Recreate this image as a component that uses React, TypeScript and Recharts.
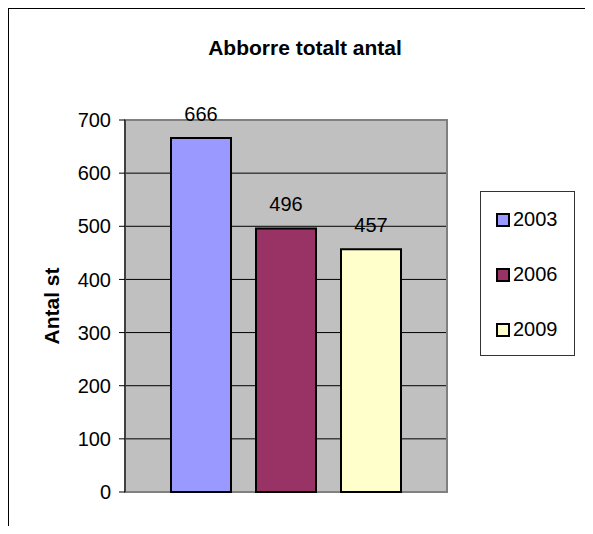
import React from 'react';
import {
  BarChart, Bar, XAxis, YAxis, CartesianGrid, Legend, LabelList, ReferenceArea
} from 'recharts';

// värden
const years = ['2003', '2006', '2009'];
const counts = [666, 496, 457];
const barColors = ['#9999FF', '#993366', '#FFFFCC'];
const yTicks = [0, 100, 200, 300, 400, 500, 600, 700];

const FONT = 'Liberation Sans, Arial, sans-serif';

const row: Record<string, string | number> = { name: 'Abborre' };
years.forEach((y, i) => { row['y' + y] = counts[i]; });
const chartData = [row];

const LegendBox = (props: any) => {
  const payload = props.payload || [];
  return (
    <div style={{
      boxSizing: 'border-box', width: 95, height: 165, border: '1px solid #333',
      background: '#fff', paddingLeft: 15, fontFamily: FONT, fontSize: 20, color: '#000'
    }}>
      {payload.map((p: any) => (
        <div key={p.value} style={{ height: 55, display: 'flex', alignItems: 'center' }}>
          <span style={{
            boxSizing: 'border-box', width: 14, height: 14, border: '2px solid #000',
            background: p.color, marginRight: 3
          }} />
          <span>{p.value}</span>
        </div>
      ))}
    </div>
  );
};

const AxisTitle = (props: any) => {
  const vb = props.viewBox;
  const x = vb.x + 42;
  const y = vb.y + vb.height / 2;
  return (
    <text x={x} y={y} transform={`rotate(-90, ${x}, ${y})`} textAnchor="middle"
      dominantBaseline="central" fontFamily={FONT} fontSize={21} fontWeight="bold" fill="#000">
      Antal st
    </text>
  );
};

const App: React.FC = () => {
  return (
    <div style={{
      position: 'relative', width: 584, height: 517, borderLeft: '1px solid #000',
      borderTop: '1px solid #000', overflow: 'hidden', background: '#fff'
    }}>
      <div style={{
        position: 'absolute', left: 146, top: 28, width: 300, textAlign: 'center',
        fontFamily: FONT, fontSize: 21, lineHeight: '21px', fontWeight: 'bold', zIndex: 2
      }}>
        Abborre totalt antal
      </div>
      <BarChart width={584} height={517} data={chartData} barSize={60} barGap={25}
        margin={{ top: 111, right: 146, bottom: 34, left: 0 }}>
        <CartesianGrid vertical={false} stroke="#000" fill="#C0C0C0" fillOpacity={1} />
        <ReferenceArea y1={0} y2={700} fill="none" stroke="#808080" strokeWidth={2} />
        <XAxis dataKey="name" hide />
        <YAxis domain={[0, 700]} ticks={yTicks} width={116} tickSize={6} tickMargin={8}
          interval={0} axisLine={{ stroke: '#000' }} tickLine={{ stroke: '#000' }}
          tick={{ fill: '#000', fontSize: 20, fontFamily: FONT }}
          label={<AxisTitle />} />
        {years.map((y, i) => (
          <Bar key={y} dataKey={'y' + y} name={y} fill={barColors[i]} stroke="#000"
            strokeWidth={2} isAnimationActive={false}>
            <LabelList dataKey={'y' + y} position="top" offset={17} fill="#000"
              fontSize={20} fontFamily={FONT} />
          </Bar>
        ))}
        <Legend layout="horizontal" verticalAlign="middle" align="center" content={<LegendBox />}
          wrapperStyle={{ left: 471, top: 182, width: 95, height: 165 }} />
      </BarChart>
    </div>
  );
};

export default App;
